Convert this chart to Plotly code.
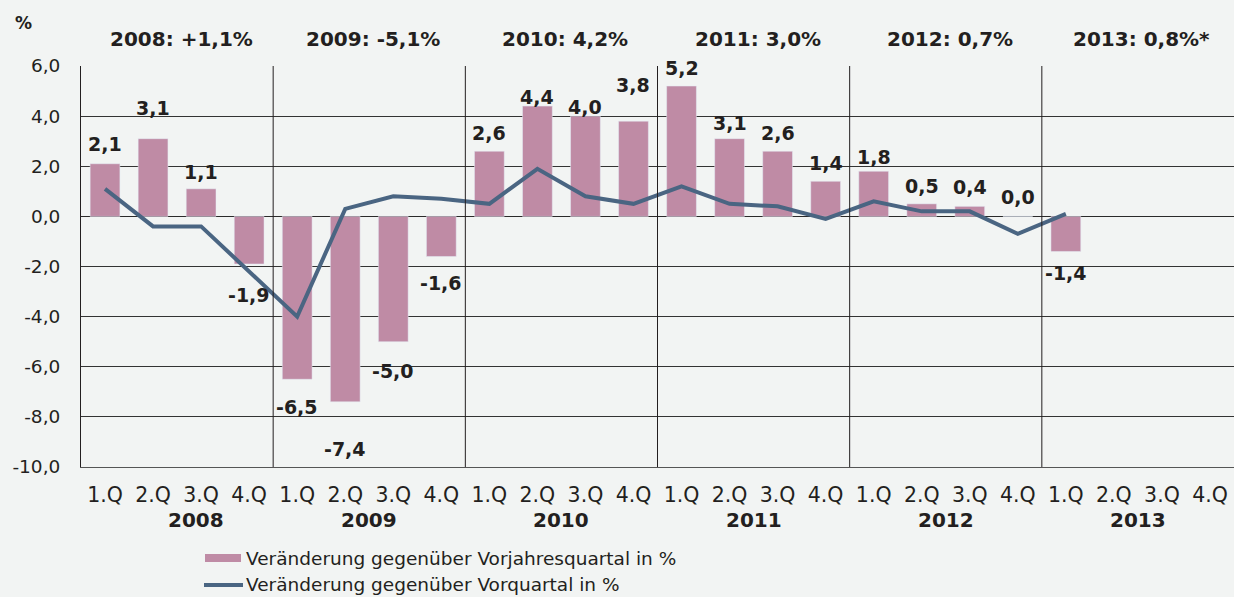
import plotly.graph_objects as go

# ---------------- data ----------------
years = ["2008", "2009", "2010", "2011", "2012", "2013"]
year_titles = ["2008: +1,1%", "2009: -5,1%", "2010: 4,2%", "2011: 3,0%", "2012: 0,7%", "2013: 0,8%*"]
quarter_labels = ["1.Q", "2.Q", "3.Q", "4.Q"]
yoy_change = [2.1, 3.1, 1.1, -1.9, -6.5, -7.4, -5.0, -1.6, 2.6, 4.4, 4.0, 3.8,
              5.2, 3.1, 2.6, 1.4, 1.8, 0.5, 0.4, 0.0, -1.4, None, None, None]
qoq_change = [1.1, -0.4, -0.4, -2.2, -4.0, 0.3, 0.8, 0.7, 0.5, 1.9, 0.8, 0.5,
              1.2, 0.5, 0.4, -0.1, 0.6, 0.2, 0.2, -0.7, 0.1, None, None, None]
y_ticks = [-10, -8, -6, -4, -2, 0, 2, 4, 6]
series_names = ["Veränderung gegenüber Vorjahresquartal in %",
                "Veränderung gegenüber Vorquartal in %"]

# label distance (px) from bar end, chosen to mirror the reference placement
label_offsets = [20, 31, 17, 31, 28, 47, 29, 27, 18, 9, 9, 36,
                 18, 16, 18, 18, 14, 18, 19, 19, 22]

# ---------------- style ----------------
W, H = 1234, 597
L, T, B, R = 81, 66, 130, 0
PW, PH = W - L - R, H - T - B
BG = "#f2f4f3"
TXT = "#231f20"
BAR = "#bf8ba5"
LINE = "#4a6582"
FONT = "DejaVu Sans"


def fmt(v):
    return f"{v:.1f}".replace(".", ",")


def px_x(px):
    return (px - L) / PW


def px_y(py):
    return (H - B - py) / PH


n = len(years) * len(quarter_labels)
xs = list(range(n))
tick_text = quarter_labels * len(years)

fig = go.Figure()
fig.add_trace(go.Bar(x=xs, y=yoy_change, marker_color=BAR, width=0.62,
                     name=series_names[0], showlegend=False, hoverinfo="y"))
fig.add_trace(go.Scatter(x=xs, y=qoq_change, mode="lines",
                         line=dict(color=LINE, width=4),
                         name=series_names[1], showlegend=False))

annotations = []
# bar value labels
for i, v in enumerate(yoy_change):
    if v is None:
        continue
    off = label_offsets[i]
    annotations.append(dict(x=i, y=v, xref="x", yref="y", text=f"<b>{fmt(v)}</b>",
                            showarrow=False, yanchor="middle",
                            yshift=off if v >= 0 else -off,
                            font=dict(family=FONT, size=19, color=TXT)))

# year titles (top) and year labels (bottom)
bottom_shift = [19, 0, 0, 0, 0, 0]
for k, (yr, ttl) in enumerate(zip(years, year_titles)):
    xc = k * 4 + 1.5
    annotations.append(dict(x=xc, y=px_y(39), xref="x", yref="paper", text=f"<b>{ttl}</b>",
                            showarrow=False, yanchor="middle", xshift=4,
                            font=dict(family=FONT, size=20, color=TXT)))
    annotations.append(dict(x=xc, y=px_y(520), xref="x", yref="paper", text=f"<b>{yr}</b>",
                            showarrow=False, yanchor="middle", xshift=bottom_shift[k],
                            font=dict(family=FONT, size=20, color=TXT)))

# % unit label
annotations.append(dict(x=px_x(23), y=px_y(23), xref="paper", yref="paper", text="<b>%</b>",
                        showarrow=False, xanchor="center", yanchor="middle",
                        font=dict(family=FONT, size=17, color=TXT)))

# legend texts
annotations.append(dict(x=px_x(244), y=px_y(558), xref="paper", yref="paper",
                        text=series_names[0], showarrow=False, xanchor="left", yanchor="middle",
                        font=dict(family=FONT, size=18.5, color=TXT)))
annotations.append(dict(x=px_x(244), y=px_y(584), xref="paper", yref="paper",
                        text=series_names[1], showarrow=False, xanchor="left", yanchor="middle",
                        font=dict(family=FONT, size=18.5, color=TXT)))

shapes = []
# year separators
for k in range(1, len(years)):
    shapes.append(dict(type="line", xref="x", yref="y", x0=k * 4 - 0.5, x1=k * 4 - 0.5,
                       y0=y_ticks[0], y1=y_ticks[-1], line=dict(color=TXT, width=1)))
# legend symbols
shapes.append(dict(type="rect", xref="paper", yref="paper",
                   x0=px_x(205), x1=px_x(241), y0=px_y(562), y1=px_y(554),
                   fillcolor=BAR, line=dict(width=0)))
shapes.append(dict(type="line", xref="paper", yref="paper",
                   x0=px_x(204), x1=px_x(243), y0=px_y(585), y1=px_y(585),
                   line=dict(color=LINE, width=4)))

fig.update_layout(
    width=W, height=H,
    margin=dict(l=L, r=R, t=T, b=B, pad=0),
    paper_bgcolor=BG, plot_bgcolor=BG,
    bargap=0.38,
    showlegend=False,
    annotations=annotations,
    shapes=shapes,
    font=dict(family=FONT, color=TXT),
)
fig.update_xaxes(range=[-0.5, n - 0.5], tickmode="array", tickvals=xs, ticktext=tick_text,
                 showgrid=False, zeroline=False, showline=True, linecolor="#555555", linewidth=1,
                 ticks="", ticklabelstandoff=9,
                 tickfont=dict(family=FONT, size=20.5, color=TXT), fixedrange=True)
fig.update_yaxes(range=[y_ticks[0], y_ticks[-1]], tickmode="array", tickvals=y_ticks,
                 ticktext=[fmt(t) for t in y_ticks],
                 showgrid=True, gridcolor="#333333", gridwidth=1,
                 zeroline=True, zerolinecolor="#2a2a2a", zerolinewidth=1,
                 showline=True, linecolor=TXT, linewidth=1,
                 ticks="", ticklabelstandoff=16,
                 tickfont=dict(family=FONT, size=18.5, color=TXT), fixedrange=True)

fig.write_html("out.html", config={"displayModeBar": False})

# remove the default page margin so the figure fills the window exactly
with open("out.html", encoding="utf-8") as fh:
    html = fh.read()
html = html.replace("<head>", f"<head><style>html,body{{margin:0;padding:0;background:{BG};overflow:hidden}}</style>", 1)
with open("out.html", "w", encoding="utf-8") as fh:
    fh.write(html)
